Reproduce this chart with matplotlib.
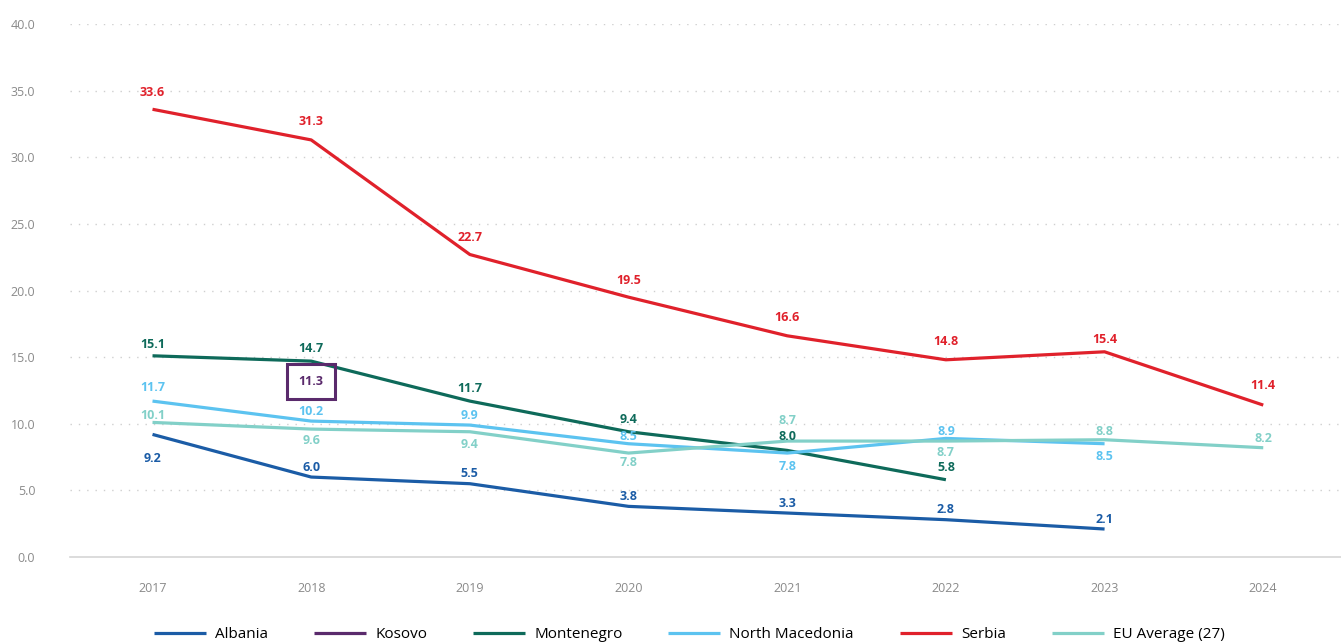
import matplotlib.pyplot as plt
import numpy as np

years = [2017, 2018, 2019, 2020, 2021, 2022, 2023, 2024]

albania = [9.2, 6.0, 5.5, 3.8, 3.3, 2.8, 2.1, None]
kosovo = [None, 11.3, None, None, None, None, None, None]
montenegro = [15.1, 14.7, 11.7, 9.4, 8.0, 5.8, None, None]
north_macedonia = [11.7, 10.2, 9.9, 8.5, 7.8, 8.9, 8.5, None]
serbia = [33.6, 31.3, 22.7, 19.5, 16.6, 14.8, 15.4, 11.4]
eu_average = [10.1, 9.6, 9.4, 7.8, 8.7, 8.7, 8.8, 8.2]

names = ["Albania", "Kosovo", "Montenegro", "North Macedonia", "Serbia", "EU Average (27)"]
series = [albania, kosovo, montenegro, north_macedonia, serbia, eu_average]
colors = ["#1b5ca6", "#5a2a6c", "#0e6a5a", "#5cc3f0", "#e0212b", "#82d0c8"]

# vertical label offsets in points (positive = above the point)
offsets = [
    [-17, 7, 7, 7, 7, 7, 7, 0],
    [0, 18, 0, 0, 0, 0, 0, 0],
    [8, 9, 9, 9, 10, 9, 0, 0],
    [10, 7, 7, 5, -10, 5, -9, 0],
    [12, 13, 12, 12, 13, 13, 9, 14],
    [5, -8, -9, -7, 15, -8, 6, 7],
]

plt.rcParams['font.family'] = ['Open Sans', 'DejaVu Sans']

fig = plt.figure(figsize=(13.41, 6.44), dpi=100)
ax = fig.add_axes([70 / 1341, 87 / 644, 1 - 70 / 1341, (557 - 24) / 644])

x = np.arange(len(years))
for name, vals, col, offs in zip(names, series, colors, offsets):
    xs = [i for i, v in enumerate(vals) if v is not None]
    ys = [v for v in vals if v is not None]
    ax.plot(xs, ys, color=col, lw=2.3, label=name, solid_capstyle='butt',
            solid_joinstyle='round')
    for xi, yi in zip(xs, ys):
        off = offs[xi]
        kw = {}
        if name == "Kosovo":
            kw['bbox'] = dict(boxstyle='square,pad=0.9', fc='none', ec=col, lw=2.2)
        ax.annotate(f"{yi:.1f}", (xi, yi), xytext=(0, off), textcoords='offset points',
                    ha='center', va='center', fontsize=9, fontweight='bold',
                    color=col, **kw)

ax.set_xlim(-0.52, 7.49)
ax.set_ylim(0, 40)
ax.set_yticks(np.arange(0, 41, 5))
ax.set_yticklabels([f"{v:.1f}" for v in np.arange(0, 41, 5)])
ax.set_xticks(x)
ax.set_xticklabels([str(y) for y in years])
ax.tick_params(axis='both', length=0, colors='#8a8a8a', labelsize=9)
ax.tick_params(axis='y', pad=25)
ax.tick_params(axis='x', pad=18)

for yv in np.arange(5, 41, 5):
    ax.axhline(yv, color='#cfcfcf', lw=1.0, ls=(0, (1, 5)), zorder=0)
for s in ['top', 'right', 'left']:
    ax.spines[s].set_visible(False)
ax.spines['bottom'].set_color('#d6d6d6')
ax.spines['bottom'].set_linewidth(1.2)

handles, labels = ax.get_legend_handles_labels()
fig.legend(handles, labels, loc='center', bbox_to_anchor=(0.514, 9 / 644), ncol=6,
           frameon=False, fontsize=11, handlelength=3.4, columnspacing=3.0,
           handletextpad=0.6)

fig.savefig("out.png", dpi=100)
